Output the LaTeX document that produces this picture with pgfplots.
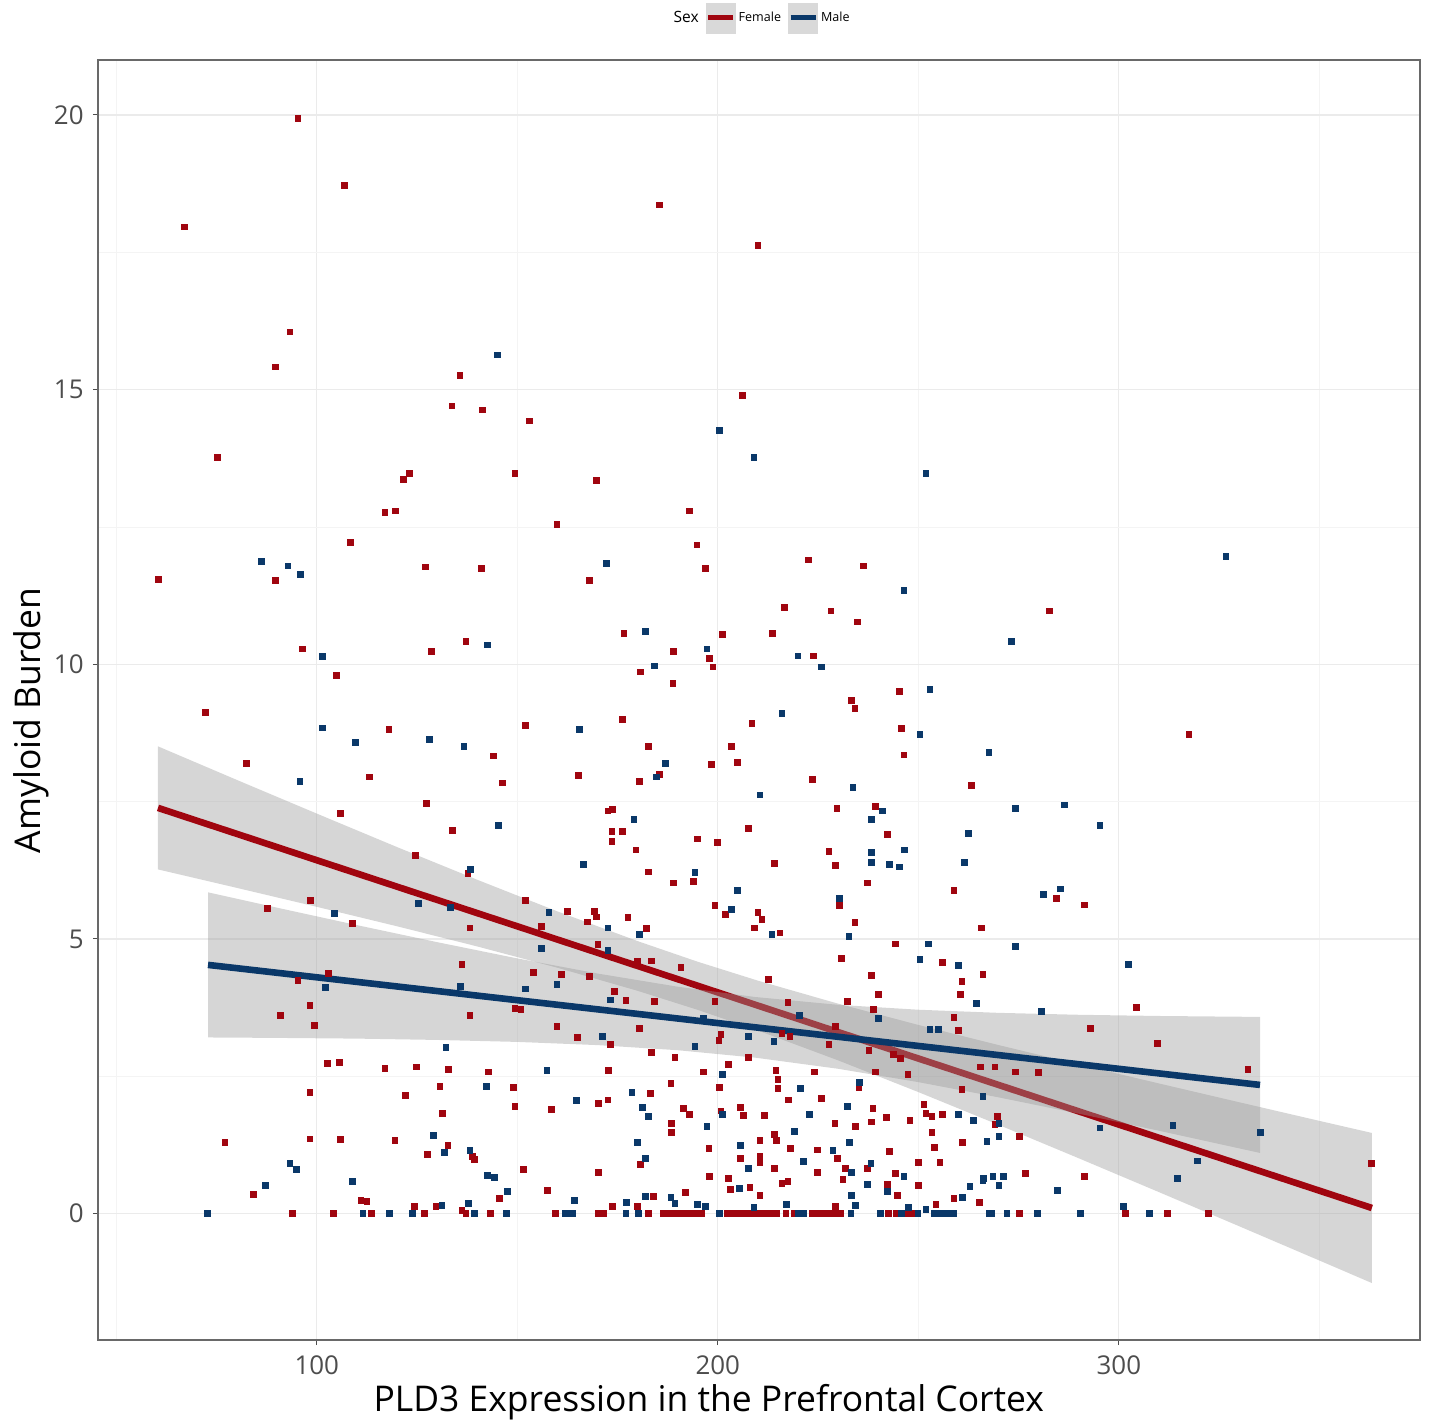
\documentclass[border=0pt]{standalone}
\usepackage{fontspec}
\setmainfont{Open Sans}
\usepackage{pgfplots}
\pgfplotsset{compat=1.18}
\definecolor{femred}{RGB}{160,5,15}
\definecolor{malblue}{RGB}{10,56,105}
\definecolor{gridmaj}{RGB}{235,235,235}
\definecolor{gridmin}{RGB}{244,244,244}
\definecolor{bordercol}{RGB}{105,105,105}
\definecolor{tickcol}{RGB}{77,77,77}
\definecolor{keygray}{RGB}{217,217,217}
\definecolor{bandgray}{RGB}{153,153,153}
\begin{document}
\begin{tikzpicture}
\path[use as bounding box] (0,0) rectangle (720bp,712.5bp);
\begin{axis}[
  at={(49bp,42.5bp)}, anchor=south west,
  scale only axis, width=661bp, height=640bp,
  xmin=45.44, xmax=375.1, ymin=-2.30, ymax=21.0,
  xtick={100,200,300}, ytick={0,5,10,15,20},
  minor xtick={50,150,250,350}, minor ytick={2.5,7.5,12.5,17.5},
  grid=both,
  major grid style={color=gridmaj, line width=0.6bp},
  minor grid style={color=gridmin, line width=0.4bp},
  tick align=outside, major tick length=2.5bp, minor tick length=0pt,
  tick style={color=tickcol, line width=0.5bp},
  xtick pos=bottom, ytick pos=left,
  axis line style={color=bordercol, line width=0.7bp},
  /pgf/number format/assume math mode=true,
  ticklabel style={font=\fontsize{13}{15}\selectfont, text=tickcol},
  xticklabel style={anchor=north, inner sep=0pt, yshift=-5bp},
  yticklabel style={anchor=east, inner sep=0pt, xshift=-4.5bp},
  xlabel={PLD3 Expression in the Prefrontal Cortex},
  ylabel={Amyloid Burden},
  xlabel style={at={(axis description cs:0.462,-0.05625)}, anchor=base, font=\fontsize{17.8}{20}\selectfont, inner sep=0pt},
  ylabel style={at={(axis description cs:-0.04387,0.484)}, anchor=base, rotate=0, font=\fontsize{17.8}{20}\selectfont, inner sep=0pt},
  legend style={at={(axis description cs:0.502,1.0328)}, anchor=center, draw=none, fill=none,
    font=\fontsize{6.3}{7.5}\selectfont, inner sep=0pt,
    nodes={inner sep=1.5bp},
    /tikz/every even column/.append style={column sep=2bp}},
  legend columns=-1,
]
\addlegendimage{empty legend}
\addlegendentry{\fontsize{7.8}{9}\selectfont Sex}
\addlegendimage{legend image code/.code={\fill[keygray] (0bp,-7.5bp) rectangle (14.5bp,7.5bp); \draw[femred,line width=2.5bp] (1bp,0bp) -- (13.5bp,0bp);}}
\addlegendentry{Female}
\addlegendimage{legend image code/.code={\fill[keygray] (0bp,-7.5bp) rectangle (14.5bp,7.5bp); \draw[malblue,line width=2.5bp] (1bp,0bp) -- (13.5bp,0bp);}}
\addlegendentry{Male}

% Female points
\addplot[only marks, color=femred, mark=square*, mark size=1.45bp, mark options={fill=femred, draw=femred, line width=0pt}, forget plot] coordinates {
(95.3,19.93)(67.1,17.96)(107.0,18.71)(185.5,18.36)(210.0,17.62)(93.3,16.05)(89.8,15.41)(75.3,13.76)(135.7,15.25)(133.7,14.70)(141.4,14.63)(153.1,14.43)(206.2,14.89)(149.4,13.47)(123.2,13.47)(121.7,13.36)(169.8,13.34)
(60.6,11.54)(89.8,11.52)(108.5,12.21)(117.0,12.76)(119.7,12.79)(127.2,11.77)(141.1,11.74)(96.5,10.28)(105.0,9.79)(128.7,10.23)(137.2,10.41)(72.3,9.12)(118.0,8.82)(152.1,8.88)(144.1,8.33)(82.5,8.19)(113.2,7.95)(146.4,7.84)(127.4,7.46)(106.0,7.28)(133.9,6.97)(124.7,6.52)(137.7,6.19)(152.1,5.70)(98.5,5.70)(87.8,5.55)(109.0,5.28)(138.2,5.20)(156.1,5.22)
(159.9,12.54)(193.0,12.79)(194.8,12.17)(197.0,11.74)(168.1,11.52)(222.7,11.90)(236.4,11.79)(216.7,11.03)(228.2,10.97)(234.9,10.77)(176.6,10.56)(201.2,10.54)(213.7,10.56)(189.0,10.23)(198.0,10.10)(198.8,9.95)(223.9,10.15)(180.8,9.86)(188.8,9.65)(245.4,9.50)(233.4,9.34)(234.2,9.19)(176.3,8.99)(208.5,8.92)(245.9,8.83)(182.8,8.50)(203.5,8.50)(246.4,8.35)(185.5,7.99)(198.5,8.17)(205.0,8.21)(165.3,7.97)(180.5,7.86)(223.7,7.90)(263.3,7.79)(172.6,7.33)(173.8,7.35)(229.7,7.37)(239.4,7.41)(173.6,6.95)(176.3,6.95)(173.6,6.77)(207.7,7.01)(242.4,6.90)(195.0,6.82)(200.0,6.75)(179.6,6.62)(227.7,6.59)(229.4,6.33)(214.2,6.37)(182.8,6.22)(189.0,6.02)(194.0,6.04)(237.4,6.02)(258.9,5.88)(230.4,5.61)(199.3,5.61)(202.0,5.44)(210.0,5.48)(211.0,5.35)(209.2,5.20)(234.2,5.30)(265.8,5.20)(162.6,5.50)(169.3,5.50)(169.8,5.40)(167.6,5.31)(177.6,5.39)(182.3,5.19)
(282.8,10.97)(317.5,8.72)(284.5,5.73)(291.5,5.62)
(136.2,4.53)(154.1,4.39)(95.3,4.24)(103.0,4.37)(98.3,3.79)(91.0,3.60)(99.5,3.42)(138.2,3.60)(149.4,3.73)(150.9,3.71)(102.7,2.73)(105.7,2.75)(117.0,2.64)(124.9,2.67)(132.9,2.62)(142.9,2.58)(98.3,2.20)(122.2,2.15)(130.7,2.31)(149.1,2.29)(131.4,1.82)(149.4,1.95)(77.1,1.29)(98.3,1.36)(106.0,1.35)(119.5,1.33)(132.7,1.24)(127.7,1.07)(139.4,0.98)(138.9,1.04)(151.6,0.80)(84.3,0.35)(145.6,0.27)(157.6,0.42)(111.0,0.24)(112.5,0.22)(124.4,0.13)(129.7,0.13)(136.2,0.05)
(94.0,0)(104.2,0)(113.7,0)(126.9,0)(137.2,0)(143.4,0)
(215.5,5.11)(244.4,4.91)(256.1,4.57)(260.9,4.22)(266.1,4.35)(260.6,3.99)(230.9,4.64)(212.7,4.26)(238.4,4.33)(240.1,3.99)(232.4,3.86)(238.9,3.71)(258.9,3.57)(260.1,3.33)(217.5,3.84)(229.4,3.40)(227.7,3.08)(237.7,2.97)(243.9,2.89)(245.6,2.82)(239.4,2.58)(247.4,2.53)(265.6,2.67)(260.9,2.26)(235.2,2.29)
(161.1,4.35)(168.1,4.31)(170.1,4.90)(180.0,4.60)(183.5,4.60)(190.8,4.48)(174.3,4.04)(177.1,3.88)(184.3,3.86)(199.3,3.86)(159.9,3.40)(180.5,3.37)(165.1,3.20)(200.8,3.26)(200.3,3.15)(216.0,3.28)(218.0,3.22)(173.3,3.08)(183.5,2.93)(189.3,2.84)(207.7,2.84)(172.8,2.60)(196.5,2.58)(202.7,2.71)(214.5,2.60)(215.0,2.44)(224.2,2.58)(215.0,2.28)(188.3,2.37)(200.5,2.29)(183.3,2.18)(158.6,1.89)(170.3,2.00)(172.6,2.07)(217.7,2.07)(225.9,2.09)(191.5,1.91)(193.0,1.80)(200.8,1.87)(205.7,1.93)(206.5,1.78)(211.7,1.78)(238.7,1.91)(229.2,1.64)(234.4,1.58)(238.4,1.67)(242.1,1.75)(247.9,1.69)(251.4,1.98)(251.9,1.82)(253.4,1.77)(256.1,1.80)(188.5,1.64)(188.5,1.47)(214.2,1.44)(214.7,1.33)(253.4,1.47)(197.8,1.18)(210.5,1.33)(218.2,1.18)(224.9,1.16)(242.9,1.13)(254.1,1.20)(261.1,1.29)(180.8,0.89)(205.7,1.00)(210.5,1.04)(210.5,0.93)(229.9,1.00)(214.2,0.82)(231.9,0.82)(237.4,0.82)(250.1,0.93)(255.4,0.93)(170.3,0.75)(198.0,0.67)(202.7,0.64)(224.9,0.75)(244.4,0.73)(231.2,0.62)(216.0,0.55)(217.5,0.58)(242.4,0.53)(250.1,0.51)(203.2,0.44)(208.0,0.47)(210.5,0.33)(192.0,0.38)(184.0,0.31)(244.9,0.33)(258.9,0.27)(265.3,0.20)(254.4,0.16)(173.8,0.13)(180.0,0.13)(229.4,0.13)
(159.6,0)(170.3,0)(171.6,0)(182.8,0)(186.5,0)(187.8,0)(189.0,0)(190.3,0)(191.8,0)(193.3,0)(194.8,0)(196.0,0)(202.5,0)(203.5,0)(204.7,0)(206.0,0)(207.2,0)(208.5,0)(209.7,0)(211.0,0)(212.2,0)(213.5,0)(214.7,0)(217.0,0)(219.0,0)(223.7,0)(225.2,0)(226.4,0)(227.9,0)(229.4,0)(230.7,0)(242.6,0)(244.6,0)(246.9,0)(248.4,0)
(304.5,3.75)(293.0,3.37)(309.7,3.09)(332.2,2.62)(269.1,2.67)(274.3,2.58)(280.0,2.57)(269.8,1.77)(269.1,1.62)(275.3,1.40)(363.1,0.91)(276.8,0.73)(291.5,0.67)
(275.3,0)(301.7,0)(312.2,0)(322.4,0)
};

% Male points
\addplot[only marks, color=malblue, mark=square*, mark size=1.45bp, mark options={fill=malblue, draw=malblue, line width=0pt}, forget plot] coordinates {
(145.1,15.63)(200.5,14.25)(209.0,13.76)(251.9,13.47)
(86.3,11.87)(92.8,11.79)(96.0,11.63)(101.5,10.14)(142.6,10.35)(101.5,8.84)(109.7,8.57)(128.2,8.63)(136.7,8.50)(95.8,7.86)(145.4,7.06)(138.4,6.26)(104.5,5.46)(125.4,5.64)(133.4,5.57)(157.9,5.48)
(172.3,11.83)(246.4,11.34)(182.0,10.59)(197.3,10.28)(184.3,9.97)(220.0,10.15)(225.9,9.95)(252.9,9.54)(216.0,9.10)(165.6,8.81)(250.4,8.72)(267.6,8.39)(187.0,8.19)(184.8,7.95)(233.7,7.75)(210.5,7.62)(241.1,7.33)(179.1,7.17)(238.4,7.17)(262.6,6.92)(246.6,6.62)(238.4,6.57)(238.4,6.39)(242.9,6.35)(245.4,6.31)(261.6,6.39)(166.6,6.35)(194.3,6.21)(205.0,5.88)(230.4,5.73)(203.5,5.53)(172.6,5.20)
(326.7,11.96)(273.3,10.41)(274.3,7.37)(286.5,7.44)(295.3,7.06)(281.3,5.81)(285.5,5.91)
(156.1,4.82)(102.2,4.11)(135.9,4.13)(152.1,4.09)(132.2,3.02)(157.4,2.60)(142.4,2.31)(129.2,1.42)(131.9,1.11)(138.2,1.15)(142.6,0.69)(144.4,0.66)(93.3,0.91)(95.0,0.80)(109.0,0.58)(87.3,0.51)(147.6,0.40)(131.2,0.15)(137.9,0.18)
(72.8,0)(111.5,0)(118.2,0)(123.9,0)(139.4,0)(147.4,0)
(180.5,5.08)(213.5,5.08)(232.7,5.04)(252.6,4.91)(250.4,4.62)(260.1,4.51)(264.6,3.82)(240.1,3.55)(252.9,3.35)(255.1,3.35)(220.4,3.60)
(159.9,4.17)(172.6,4.79)(173.3,3.89)(196.5,3.55)(171.3,3.22)(207.7,3.22)(214.0,3.13)(194.3,3.04)(201.2,2.53)(220.7,2.28)(178.6,2.20)(164.8,2.06)(181.3,1.93)(182.8,1.77)(201.2,1.80)(222.9,1.80)(232.4,1.95)(260.1,1.80)(263.8,1.69)(197.3,1.58)(219.2,1.49)(180.0,1.29)(205.7,1.24)(228.7,1.15)(232.9,1.29)(267.1,1.31)(182.0,1.00)(221.4,0.95)(207.7,0.82)(233.4,0.75)(238.2,0.91)(246.4,0.67)(237.4,0.53)(242.4,0.40)(262.9,0.49)(266.1,0.60)(205.5,0.46)(182.0,0.31)(188.3,0.29)(189.3,0.18)(164.3,0.24)(233.4,0.33)(261.1,0.29)(235.4,2.38)(266.1,2.13)
(177.3,0.20)(195.0,0.16)(197.0,0.13)(209.0,0.11)(217.2,0.16)(234.4,0.15)(247.6,0.11)(251.9,0.07)
(162.1,0)(163.8,0)(177.1,0)(180.3,0)(200.5,0)(220.2,0)(221.4,0)(233.2,0)(240.6,0)(245.9,0)(249.9,0)(253.9,0)(255.1,0)(256.4,0)(257.6,0)(258.9,0)(267.8,0)
(274.3,4.86)(302.5,4.53)(280.8,3.68)(270.1,1.64)(270.1,1.40)(295.3,1.56)(313.5,1.60)(335.4,1.47)(319.7,0.96)(314.7,0.64)(266.3,0.64)(268.6,0.67)(271.3,0.67)(270.1,0.51)(284.8,0.42)(301.2,0.13)
(268.3,0)(272.1,0)(279.8,0)(290.5,0)(307.7,0)
};

% Female confidence band
\addplot[fill=bandgray, fill opacity=0.4, draw=none, forget plot] coordinates {
(60.4,8.506)(80,7.897)(100,7.282)(120,6.673)(140,6.078)(160,5.502)(180,4.961)(195,4.585)(210,4.241)(230,3.822)(250,3.435)(270,3.069)(290,2.716)(310,2.370)(330,2.028)(350,1.689)(363.1,1.469)
(363.1,-1.263)(350,-0.853)(330,-0.229)(310,0.392)(290,1.008)(270,1.617)(250,2.213)(230,2.790)(210,3.333)(195,3.709)(180,4.056)(160,4.476)(140,4.864)(120,5.231)(100,5.585)(80,5.931)(60.4,6.266)
} -- cycle;
\addplot[femred, line width=3.3bp, forget plot] coordinates {(60.4,7.386) (363.1,0.103)};

% Male confidence band
\addplot[fill=bandgray, fill opacity=0.4, draw=none, forget plot] coordinates {
(72.87,5.849)(90,5.571)(110,5.252)(130,4.942)(150,4.646)(170,4.371)(190,4.131)(209.25,3.944)(230,3.801)(250,3.712)(270,3.655)(290,3.620)(310,3.598)(335.2,3.581)
(335.2,1.105)(310,1.509)(290,1.820)(270,2.117)(250,2.394)(230,2.637)(209.25,2.840)(190,2.975)(170,3.068)(150,3.126)(130,3.162)(110,3.186)(90,3.199)(72.87,3.207)
} -- cycle;
\addplot[malblue, line width=3.3bp, forget plot] coordinates {(72.87,4.528) (335.2,2.343)};
\end{axis}
\end{tikzpicture}
\end{document}
